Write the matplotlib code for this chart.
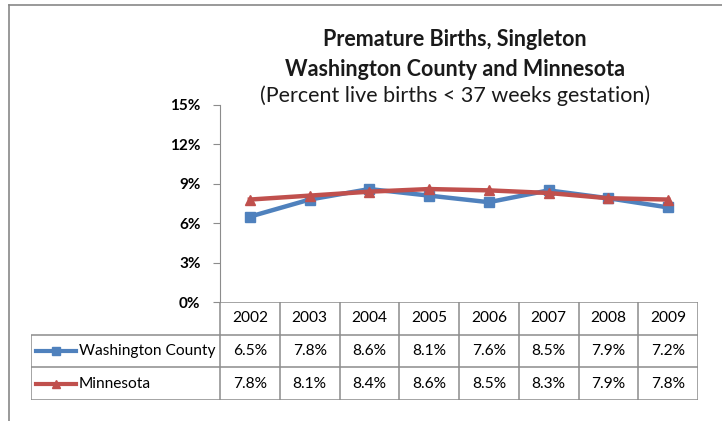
import matplotlib.pyplot as plt
from matplotlib.lines import Line2D
from matplotlib.ticker import FuncFormatter

# data
years = ['2002', '2003', '2004', '2005', '2006', '2007', '2008', '2009']
washington = [6.5, 7.8, 8.6, 8.1, 7.6, 8.5, 7.9, 7.2]
minnesota = [7.8, 8.1, 8.4, 8.6, 8.5, 8.3, 7.9, 7.8]
series_names = ['Washington County', 'Minnesota']
y_ticks = [0, 3, 6, 9, 12, 15]

blue = '#4F81BD'
red = '#C0504D'
grid_col = '#8C8C8C'
FONT = 'Lato'

W, H = 722, 421
fig = plt.figure(figsize=(W / 100, H / 100), dpi=100)


def px(x0, y0, x1, y1):
    # pixel box (top-left origin) -> figure fraction rect
    return [x0 / W, 1 - y1 / H, (x1 - x0) / W, (y1 - y0) / H]


# outer chart border
fig.add_artist(Line2D([9 / W, 9 / W], [0, 1 - 5 / H], color='#878787', lw=1.2))
fig.add_artist(Line2D([9 / W, 1], [1 - 5 / H, 1 - 5 / H], color='#878787', lw=1.2))

# titles
fig.text(455 / W, 1 - 40 / H, 'Premature Births, Singleton', ha='center', va='center',
         fontsize=15.5, fontweight='bold', family=FONT, color='#1a1a1a')
fig.text(455 / W, 1 - 69 / H, 'Washington County and Minnesota', ha='center', va='center',
         fontsize=15.5, fontweight='bold', family=FONT, color='#1a1a1a')
fig.text(455 / W, 1 - 96 / H, '(Percent live births < 37 weeks gestation)', ha='center',
         va='center', fontsize=15.5, family=FONT, color='#1a1a1a')

# line chart
ax = fig.add_axes(px(220, 105, 698, 302))
x = list(range(len(years)))
ax.plot(x, washington, color=blue, lw=3.2, marker='s', ms=6.5, zorder=3)
ax.plot(x, minnesota, color=red, lw=3.2, marker='^', ms=7.5, zorder=3)
ax.set_xlim(-0.5, len(years) - 0.5)
ax.set_ylim(0, 15)
ax.set_yticks(y_ticks)
ax.yaxis.set_major_formatter(FuncFormatter(lambda v, p: f'{v:.0f}%'))
ax.set_xticks([])
for s in ['top', 'right', 'bottom']:
    ax.spines[s].set_visible(False)
ax.spines['left'].set_color(grid_col)
ax.tick_params(axis='y', length=5, color=grid_col, pad=9)
for lab in ax.get_yticklabels():
    lab.set_fontweight('bold')
    lab.set_fontsize(11)
    lab.set_family(FONT)
ax.patch.set_alpha(0)

# data table, same column scale as the chart
tx = fig.add_axes(px(31, 302, 698, 400))
col_w = (698 - 220) / len(years)
left_w = (220 - 31) / col_w
tx.set_xlim(-0.5 - left_w, len(years) - 0.5)
tx.set_ylim(3, 0)
tx.axis('off')

kw = dict(color=grid_col, lw=1.1, solid_capstyle='butt')
# horizontal lines
tx.plot([-0.5, len(years) - 0.5], [0, 0], **kw)
for yy in [1, 2, 3]:
    tx.plot([-0.5 - left_w, len(years) - 0.5], [yy, yy], **kw)
# vertical lines
for i in range(len(years) + 1):
    tx.plot([i - 0.5, i - 0.5], [0, 3], **kw)
tx.plot([-0.5 - left_w, -0.5 - left_w], [1, 3], **kw)

tfs = 11.2
for i, yr in enumerate(years):
    tx.text(i, 0.5, yr, ha='center', va='center', fontsize=tfs, family=FONT)
    tx.text(i, 1.5, f'{washington[i]:.1f}%', ha='center', va='center', fontsize=tfs, family=FONT)
    tx.text(i, 2.5, f'{minnesota[i]:.1f}%', ha='center', va='center', fontsize=tfs, family=FONT)

# legend keys inside the table
key_x0 = -0.5 - left_w + 5 / col_w
key_x1 = key_x0 + 40 / col_w
for row, name, c, m in [(1.5, series_names[0], blue, 's'), (2.5, series_names[1], red, '^')]:
    tx.plot([key_x0, key_x1], [row, row], color=c, lw=3)
    tx.plot([(key_x0 + key_x1) / 2], [row], color=c, marker=m, ms=5.5)
    tx.text(key_x1 + 3 / col_w, row, name, ha='left', va='center', fontsize=tfs, family=FONT)

fig.savefig('out.png', dpi=100)
